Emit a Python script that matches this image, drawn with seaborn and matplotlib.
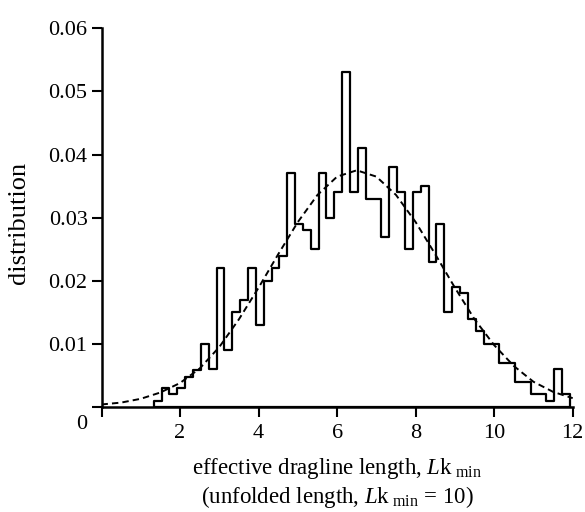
import numpy as np
import pandas as pd
import matplotlib
matplotlib.use("Agg")
import matplotlib.pyplot as plt
import seaborn as sns
from matplotlib.transforms import ScaledTranslation

# ---- data ----
bin_start = 1.33
bin_width = 0.2
hist_values = [
    0.001, 0.003, 0.002, 0.003, 0.0048, 0.0058, 0.010, 0.006, 0.022, 0.009,
    0.015, 0.017, 0.022, 0.013, 0.020, 0.022, 0.024, 0.037, 0.029, 0.028,
    0.025, 0.037, 0.030, 0.034, 0.053, 0.034, 0.041, 0.033, 0.033, 0.027,
    0.038, 0.034, 0.025, 0.034, 0.035, 0.023, 0.029, 0.015, 0.019, 0.018,
    0.014, 0.012, 0.010, 0.010, 0.007, 0.007, 0.004, 0.004, 0.002, 0.002,
    0.001, 0.006, 0.002,
]
curve_x = [0.0, 0.5, 1.0, 1.5, 2.0, 2.5, 3.0, 3.5, 4.0, 4.5, 5.0, 5.5, 6.0,
           6.5, 7.0, 7.5, 8.0, 8.5, 9.0, 9.5, 10.0, 10.5, 11.0, 11.5, 12.0]
curve_y = [0.0004, 0.0007, 0.0013, 0.0023, 0.0038, 0.0061, 0.0095, 0.0139,
           0.0189, 0.0242, 0.0293, 0.0336, 0.0365, 0.0375, 0.0365, 0.0336,
           0.0293, 0.0242, 0.0189, 0.0139, 0.0098, 0.0065, 0.0040, 0.0024,
           0.0014]
x_ticks = [0, 2, 4, 6, 8, 10, 12]
x_tick_labels = ["", "2", "4", "6", "8", "10", "12"]
y_ticks = [0, 0.01, 0.02, 0.03, 0.04, 0.05, 0.06]
y_tick_labels = ["0", "0.01", "0.02", "0.03", "0.04", "0.05", "0.06"]

sns.set_theme(style="ticks")
plt.rcParams["font.family"] = ["Liberation Serif", "DejaVu Serif"]
plt.rcParams["mathtext.fontset"] = "custom"
plt.rcParams["mathtext.rm"] = "Liberation Serif"
plt.rcParams["mathtext.it"] = "Liberation Serif:italic"

FS_TICK = 16
FS_XLAB = 16.5
FS_YLAB = 19
fig = plt.figure(figsize=(5.85, 5.12), dpi=100)
ax = fig.add_axes([101.5 / 585, 105 / 512, 471.2 / 585, 378.7 / 512])

edges = [bin_start + bin_width * i for i in range(len(hist_values) + 1)]
centers = [(edges[i] + edges[i + 1]) / 2 for i in range(len(hist_values))]
df = pd.DataFrame({"x": centers, "w": hist_values})
sns.histplot(data=df, x="x", weights="w", bins=edges, element="step",
             fill=True, color="black", facecolor="none", edgecolor="black",
             linewidth=1.6, ax=ax)

sns.lineplot(x=curve_x, y=curve_y, color="black", linewidth=1.4,
             linestyle=(0, (3.3, 2.1)), ax=ax)

ax.set_xlim(0, 12)
ax.set_ylim(0, 0.06)
ax.set_xticks(x_ticks, x_tick_labels)
ax.set_yticks(y_ticks, y_tick_labels)
sns.despine(ax=ax)
for s in ("left", "bottom"):
    ax.spines[s].set_linewidth(1.8)
    ax.spines[s].set_color("black")
ax.tick_params(direction="out", length=7, width=1.5, colors="black",
               labelsize=FS_TICK)
ax.tick_params(axis="y", pad=3)
ax.tick_params(axis="x", pad=5)

ax.set_ylabel("distribution", fontsize=FS_YLAB, color="black", va="center")
ax.yaxis.set_label_coords(-0.176, 0.486)
ax.set_xlabel("effective dragline length, $\\mathit{L}\\mathrm{k}_{\\ \\mathrm{min}}$\n"
              "(unfolded length, $\\mathit{L}\\mathrm{k}_{\\ \\mathrm{min}}$ = 10)",
              fontsize=FS_XLAB, color="black", linespacing=1.15)
ax.xaxis.set_label_coords(0.5, -0.13)

lab0 = ax.get_yticklabels()[0]
lab0.set_transform(lab0.get_transform() +
                   ScaledTranslation(0, -15 / 100, fig.dpi_scale_trans))

fig.savefig("out.png", dpi=100)
